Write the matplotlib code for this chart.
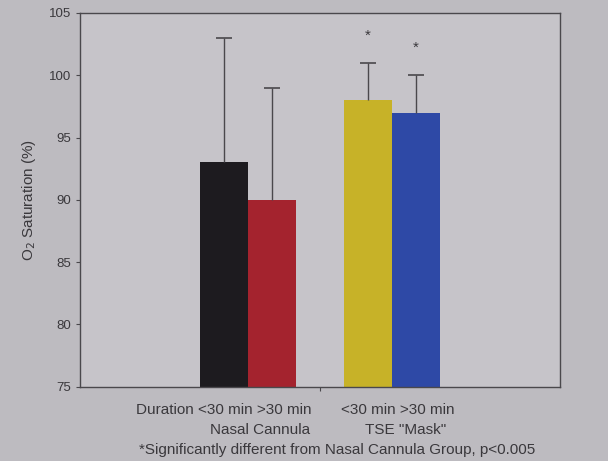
import matplotlib.pyplot as plt

# ------------ DATA -----------------------
means = [93, 90, 98, 97]
upper_err = [10, 9, 3, 3]
positions = [3, 4, 6, 7]
bar_colors = ['#1d1b1f', '#a4232e', '#c7b228', '#2e49a6']
star_groups = [2, 3]  # index of bars marked as significant
yticks = [75, 80, 85, 90, 95, 100, 105]

bg = '#bdbbc0'
text_col = '#3a383c'
line_col = '#4a484c'

plt.rcParams['font.family'] = ['Liberation Sans', 'DejaVu Sans']

fig = plt.figure(figsize=(6.08, 4.61), dpi=100, facecolor=bg)
ax = fig.add_axes([0.132, 0.161, 0.789, 0.811], facecolor='#c6c4c9')

ax.bar(positions, means, width=1.0, color=bar_colors,
       edgecolor='none', zorder=2)

# upper error bars only, with a cap on top
tops = [m + e for m, e in zip(means, upper_err)]
ax.vlines(positions, means, tops, color=line_col, linewidth=1.0, zorder=3)
ax.plot(positions, tops, ls='none', marker='_', markersize=11,
        markeredgewidth=1.2, color=line_col, zorder=3)

for i in star_groups:
    ax.text(positions[i], tops[i] + 2.2, '*',
            ha='center', va='center', fontsize=11, color=text_col)

ax.set_xlim(0, 10)
ax.set_ylim(75, 105)
ax.set_yticks(yticks)
ax.set_yticklabels([str(t) for t in yticks], fontsize=9.5, color=text_col)
ax.set_xticks([5])
ax.set_xticklabels([''])
ax.tick_params(direction='out', length=3, color=line_col, width=0.8)
for sp in ax.spines.values():
    sp.set_color(line_col)
    sp.set_linewidth(1.0)

ax.set_ylabel('O$_2$ Saturation (%)', fontsize=11, color=text_col,
              labelpad=8)

# ------------ LABELS UNDER THE AXIS -----------------------
fs = 11
fig.text(224 / 608, 1 - 410 / 461, 'Duration <30 min >30 min',
         ha='center', va='center', fontsize=fs, color=text_col)
fig.text(398 / 608, 1 - 410 / 461, '<30 min >30 min',
         ha='center', va='center', fontsize=fs, color=text_col)
fig.text(260 / 608, 1 - 430 / 461, 'Nasal Cannula',
         ha='center', va='center', fontsize=fs, color=text_col)
fig.text(406 / 608, 1 - 430 / 461, 'TSE "Mask"',
         ha='center', va='center', fontsize=fs, color=text_col)
fig.text(337 / 608, 1 - 450 / 461,
         '*Significantly different from Nasal Cannula Group, p<0.005',
         ha='center', va='center', fontsize=fs, color=text_col)

fig.savefig('out.png', dpi=100, facecolor=bg)
